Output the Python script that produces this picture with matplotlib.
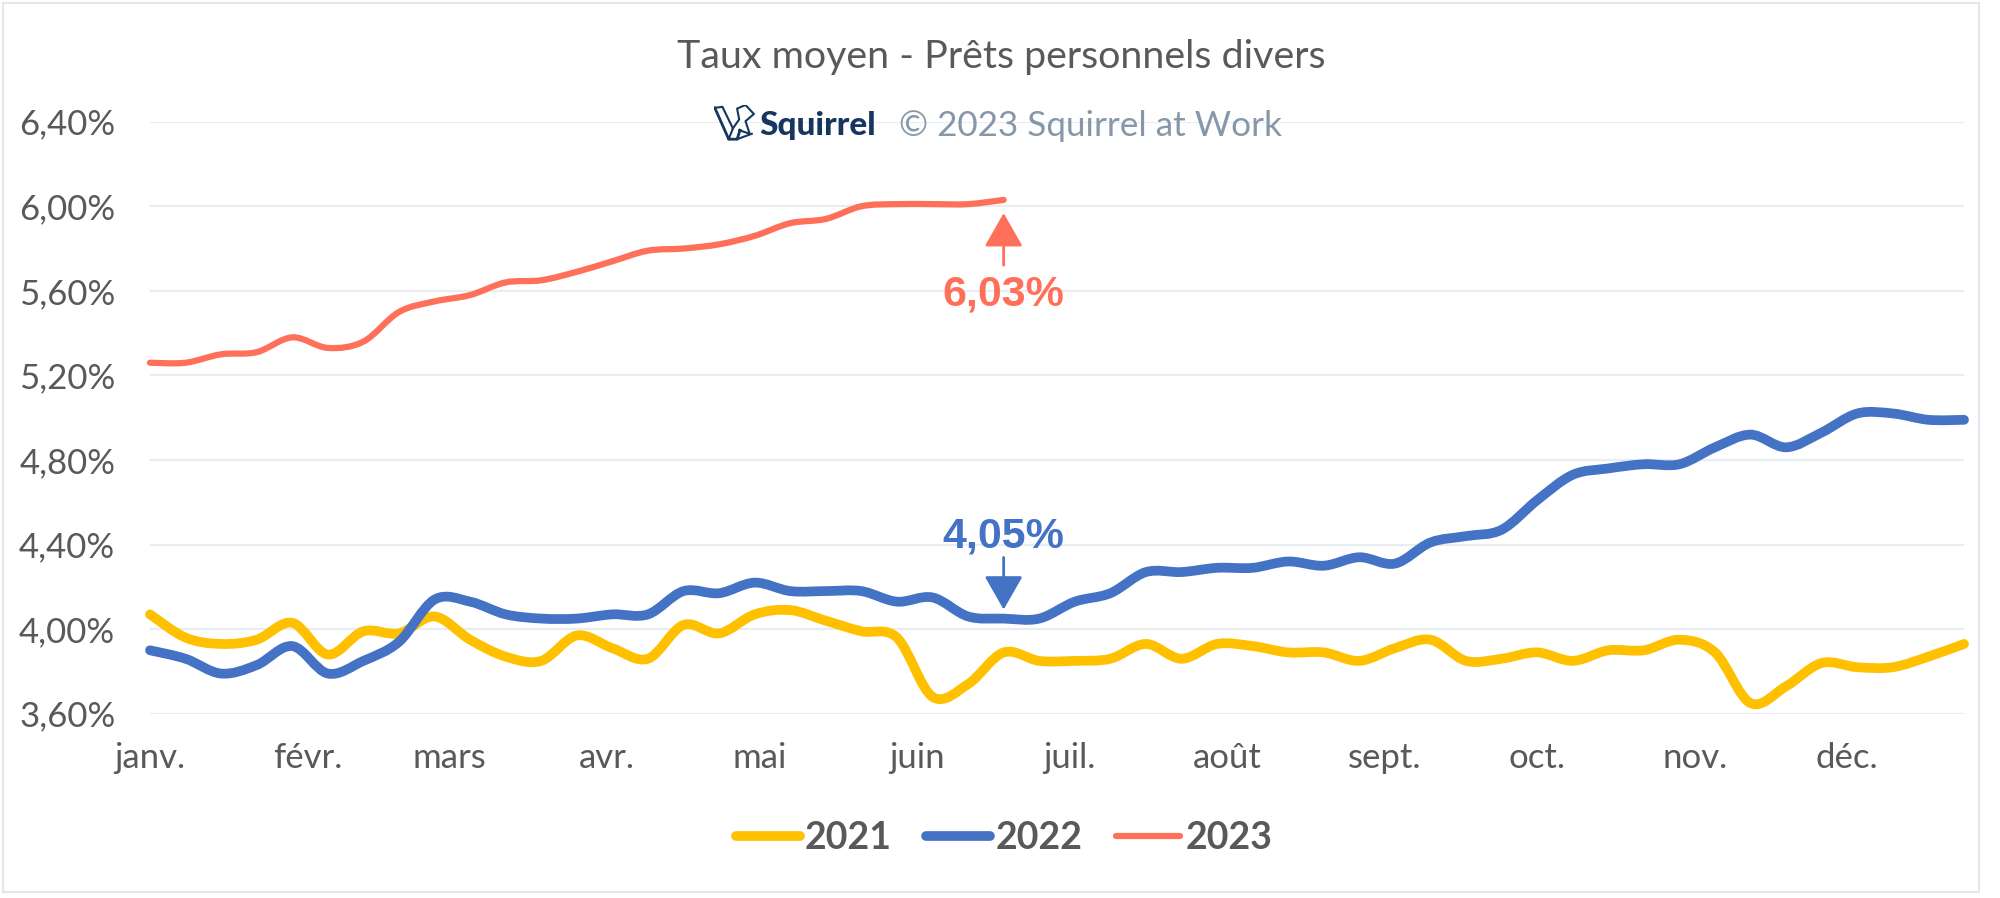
import numpy as np
import matplotlib
matplotlib.use("Agg")
import matplotlib.pyplot as plt
from matplotlib.path import Path
from matplotlib.patches import PathPatch, Rectangle
from matplotlib.lines import Line2D

# ---------------- data ----------------
week_day_step = 7  # weekly observations
months = ["janv.", "févr.", "mars", "avr.", "mai", "juin", "juil.", "août",
          "sept.", "oct.", "nov.", "déc."]
month_start_days = [0, 31, 59, 90, 120, 151, 181, 212, 243, 273, 304, 334]

rate_2021 = [4.07, 3.96, 3.93, 3.95, 4.03, 3.88, 3.99, 3.98, 4.06, 3.95,
             3.87, 3.85, 3.97, 3.91, 3.86, 4.02, 3.98, 4.07, 4.09, 4.04,
             3.99, 3.96, 3.68, 3.74, 3.89, 3.85, 3.85, 3.86, 3.93, 3.86,
             3.93, 3.92, 3.89, 3.89, 3.85, 3.91, 3.95, 3.85, 3.86, 3.89,
             3.85, 3.90, 3.90, 3.95, 3.89, 3.65, 3.73, 3.84, 3.82, 3.82,
             3.87, 3.93]
rate_2022 = [3.90, 3.86, 3.79, 3.83, 3.92, 3.79, 3.85, 3.94, 4.14, 4.13,
             4.07, 4.05, 4.05, 4.07, 4.07, 4.18, 4.17, 4.22, 4.18, 4.18,
             4.18, 4.13, 4.15, 4.06, 4.05, 4.05, 4.13, 4.17, 4.27, 4.27,
             4.29, 4.29, 4.32, 4.30, 4.34, 4.31, 4.41, 4.44, 4.47, 4.61,
             4.73, 4.76, 4.78, 4.78, 4.86, 4.92, 4.86, 4.93, 5.02, 5.02,
             4.99, 4.99]
rate_2023 = [5.26, 5.26, 5.30, 5.31, 5.38, 5.33, 5.36, 5.50, 5.55, 5.58,
             5.64, 5.65, 5.69, 5.74, 5.79, 5.80, 5.82, 5.86, 5.92, 5.94,
             6.00, 6.01, 6.01, 6.01, 6.03]
series_names = ["2021", "2022", "2023"]
series_colors = ["#FFC000", "#4472C4", "#FF705A"]
series_widths = [7.0, 7.0, 4.5]
y_ticks = [3.6, 4.0, 4.4, 4.8, 5.2, 5.6, 6.0, 6.4]

TEXT = "#595959"
GRID = "#E9EDF2"

# ---------------- figure ----------------
fig = plt.figure(figsize=(20, 8.98), dpi=100)
fig.patch.set_facecolor("white")
ax = fig.add_axes([0.075, 0.2052, 0.907, 0.6593])


def smooth_path(x, y):
    """Excel-like smoothed line: cubic Bezier through each point."""
    x = np.asarray(x, float)
    y = np.asarray(y, float)
    pts = np.column_stack([x, y])
    n = len(pts)
    verts = [pts[0]]
    codes = [Path.MOVETO]
    for i in range(n - 1):
        p0 = pts[i - 1] if i > 0 else pts[i]
        p1 = pts[i]
        p2 = pts[i + 1]
        p3 = pts[i + 2] if i + 2 < n else pts[i + 1]
        c1 = p1 + (p2 - p0) / 6.0
        c2 = p2 - (p3 - p1) / 6.0
        verts += [c1, c2, p2]
        codes += [Path.CURVE4] * 3
    return Path(verts, codes)


all_series = [rate_2021, rate_2022, rate_2023]
handles = []
for vals, name, col, lw in zip(all_series, series_names, series_colors, series_widths):
    days = np.arange(len(vals)) * week_day_step
    patch = PathPatch(smooth_path(days, vals), facecolor="none", edgecolor=col,
                      lw=lw, capstyle="round", joinstyle="round", clip_on=False,
                      zorder=3)
    ax.add_patch(patch)
    handles.append(Line2D([], [], color=col, lw=lw, solid_capstyle="round"))

ax.set_xlim(0, (len(rate_2021) - 1) * week_day_step)
ax.set_ylim(y_ticks[0], y_ticks[-1])
ax.set_yticks(y_ticks)
ax.set_yticklabels([f"{v:.2f}%".replace(".", ",") for v in y_ticks])
ax.set_xticks(month_start_days)
ax.set_xticklabels(months)
ax.tick_params(axis="both", length=0, colors=TEXT, labelsize=25)
ax.tick_params(axis="y", pad=25)
ax.tick_params(axis="x", pad=20)
for lab in ax.get_xticklabels() + ax.get_yticklabels():
    lab.set_fontfamily("Lato")
ax.grid(axis="y", color=GRID, lw=1.6, zorder=0)
ax.grid(axis="x", visible=False)
for s in ax.spines.values():
    s.set_visible(False)
ax.set_facecolor("none")

# ---------------- annotations ----------------
last_day_2023 = (len(rate_2023) - 1) * week_day_step
red_val = rate_2023[-1]
blue_idx = len(rate_2023) - 1
blue_val = rate_2022[blue_idx]

ax.annotate("", xy=(last_day_2023, red_val), xytext=(0, -47), textcoords="offset points",
            arrowprops=dict(arrowstyle="-|>,head_length=21,head_width=12",
                            mutation_scale=1, color=series_colors[2], lw=2,
                            shrinkA=0, shrinkB=9.5), zorder=4)
ax.annotate(f"{red_val:.2f}%".replace(".", ","), xy=(last_day_2023, red_val),
            xytext=(0, -76), textcoords="offset points", ha="center", va="baseline",
            fontsize=31, fontweight="bold", color=series_colors[2],
            family="Liberation Sans", zorder=4)

ax.annotate("", xy=(blue_idx * week_day_step, blue_val), xytext=(0, 44),
            textcoords="offset points",
            arrowprops=dict(arrowstyle="-|>,head_length=21,head_width=12",
                            mutation_scale=1, color=series_colors[1], lw=2,
                            shrinkA=0, shrinkB=6.5), zorder=4)
ax.annotate(f"{blue_val:.2f}%".replace(".", ","), xy=(blue_idx * week_day_step, blue_val),
            xytext=(0, 51), textcoords="offset points", ha="center", va="baseline",
            fontsize=31, fontweight="bold", color=series_colors[1],
            family="Liberation Sans", zorder=4)

# ---------------- titles ----------------
fig.text(0.5005, 0.9243, "Taux moyen - Prêts personnels divers", ha="center",
         va="baseline", fontsize=28.4, color=TEXT, family="Lato")
fig.text(0.3795, 0.8497, "Squirrel", ha="left", va="baseline", fontsize=24,
         fontweight="black", color="#17365D", family="Lato")
fig.text(0.4495, 0.8486, "© 2023 Squirrel at Work", ha="left", va="baseline",
         fontsize=25.3, color="#8597A8", family="Lato")

# small logo mark
lax = fig.add_axes([714 / 2000, (898 - 141) / 898, 42 / 2000, 36 / 898])
lax.set_xlim(0, 1)
lax.set_ylim(0, 1)
lax.axis("off")
navy = "#17365D"
lax.plot([0.02, 0.35, 0.55, 0.62], [0.92, 0.05, 0.05, 0.3], color=navy, lw=2)
lax.plot([0.02, 0.2, 0.45, 0.35], [0.92, 0.95, 0.35, 0.05], color=navy, lw=1.5)
lax.plot([0.45, 0.6, 0.55, 0.75, 0.95, 0.75, 0.85, 0.6], [0.35, 0.6, 0.9, 1.0, 0.75, 0.55, 0.2, 0.3],
         color=navy, lw=1.5)
lax.plot([0.55, 0.9], [0.05, 0.2], color=navy, lw=1.5)

# ---------------- legend ----------------
leg = fig.legend(handles, series_names, loc="center", bbox_to_anchor=(0.502, 0.0668),
                 ncol=3, frameon=False, handlelength=1.7, handletextpad=0.15,
                 columnspacing=0.9,
                 prop={"family": "Lato", "weight": "bold", "size": 27})
for t in leg.get_texts():
    t.set_color(TEXT)

# outer frame
fig.add_artist(Rectangle((0.0015, 0.0067), 0.988, 0.99, transform=fig.transFigure,
                         fill=False, edgecolor="#E3E7EC", lw=1.5))

fig.savefig("out.png", dpi=100, facecolor="white")
